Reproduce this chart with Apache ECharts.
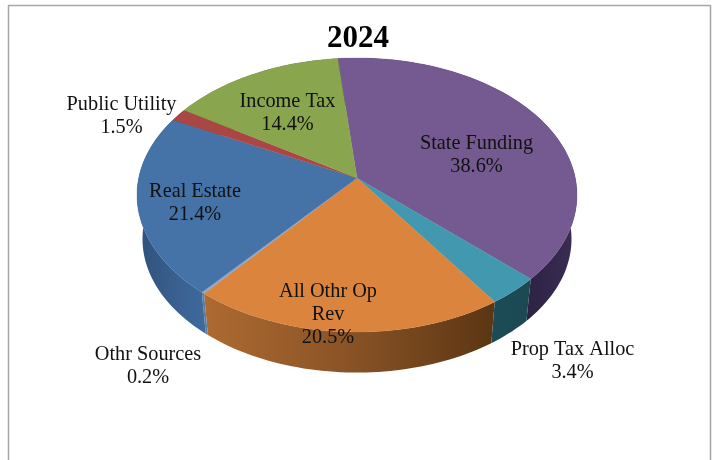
<!DOCTYPE html>
<html><head><meta charset="utf-8">
<style>html,body{margin:0;padding:0;background:#fff}#c{width:712px;height:460px}</style>
<script src="https://cdn.jsdelivr.net/npm/echarts@6/dist/echarts.min.js"></script>
</head><body><div id="c"></div>
<script>
const chartTitle = '2024';
const categories = ['State Funding','Prop Tax Alloc','All Othr Op\nRev','Othr Sources','Real Estate','Public Utility','Income Tax'];
const shares = [38.6,3.4,20.5,0.2,21.4,1.5,14.4];

const topColors = ['#745a91','#4198af','#db843d','#8da6c9','#4572a7','#aa4643','#89a54e'];
const wallStops = [
  [[0,'#2c2242'],[1,'#3a2d55']],
  [[0,'#1c4c56'],[1,'#1c4852']],
  [[0,'#ad6a31'],[0.5,'#8a5326'],[1,'#5c3713']],
  [[0,'#5f7ca3'],[1,'#5f7ca3']],
  [[0,'#30527c'],[0.6,'#3a6191'],[1,'#3e6a9d']],
  [[0,'#6e2d2b'],[1,'#6e2d2b']],
  [[0,'#5a6d33'],[1,'#5a6d33']]
];
const wallGradX = [[525,575],[490,530],[205,490],[200,206],[140,205],[170,190],[190,340]];
const labelCenters = [[476.5,155],[572.5,361],[328,315],[148,366],[195,203],[121.5,116],[287.5,113]];

const START_DEG = -5.7, CX = 357, CY = 195, RX = 220, RY = 137, TILT = -0.124;
const WALL_DY = 44, WALL_SCALE = 0.975;
const total = shares.reduce((a,b)=>a+b,0);
const cum = []; shares.reduce((s,v,i)=>(cum[i]=s,s+v),0);

// Perspective projection of the unit disc on to the top ellipse.
function proj(r, deg, lower){
  const a = deg*Math.PI/180, u = r*Math.sin(a), v = -r*Math.cos(a);
  const den = 1+TILT*v, w = (v+TILT)/den, x = u*Math.sqrt(1-TILT*TILT)/den;
  return lower ? [CX+RX*WALL_SCALE*x, CY+WALL_DY+RY*WALL_SCALE*w] : [CX+RX*x, CY+RY*w];
}
function rim(i, lower){
  const a0 = START_DEG+cum[i]/total*360, a1 = a0+shares[i]/total*360, pts = [];
  const n = Math.max(2, Math.ceil((a1-a0)/1.5));
  for(let k=0;k<=n;k++) pts.push(proj(1,a0+(a1-a0)*k/n,lower));
  return pts;
}
const data = shares.map((v,i)=>({name:categories[i],value:v}));
const noAnim = {animation:false,silent:true,coordinateSystem:'none',type:'custom',data};
const FONT = '"Liberation Serif",serif';

const chart = echarts.init(document.getElementById('c'),null,{renderer:'canvas'});
chart.setOption({
  backgroundColor:'#fff', animation:false,
  title:{text:chartTitle,left:353,top:18,textAlign:'center',
    textStyle:{fontFamily:FONT,fontSize:31,fontWeight:'bold',color:'#000'}},
  graphic:[{type:'rect',silent:true,shape:{x:8.5,y:5.5,width:702,height:480},
    style:{fill:'none',stroke:'#a6a6a6',lineWidth:1.5}}],
  series:[
    Object.assign({},noAnim,{z:1,renderItem(p){
      const i=p.dataIndex, up=rim(i,false), lo=rim(i,true).reverse();
      return {type:'polygon',shape:{points:up.concat(lo)},style:{
        fill:{type:'linear',global:true,x:wallGradX[i][0],y:0,x2:wallGradX[i][1],y2:0,
          colorStops:wallStops[i].map(s=>({offset:s[0],color:s[1]}))},
        stroke:null}};
    }}),
    Object.assign({},noAnim,{z:2,renderItem(p){
      const i=p.dataIndex, pts=[proj(0,0,false)].concat(rim(i,false));
      return {type:'polygon',shape:{points:pts},style:{fill:topColors[i],stroke:topColors[i],lineWidth:0.3}};
    }}),
    Object.assign({},noAnim,{z:3,renderItem(p,api){
      const i=p.dataIndex;
      return {type:'text',style:{x:labelCenters[i][0],y:labelCenters[i][1],
        text:categories[i]+'\n'+api.value(0).toFixed(1)+'%',
        align:'center',verticalAlign:'middle',fontFamily:FONT,fontSize:20.3,lineHeight:23,fill:'#111'}};
    },encode:{value:1}})
  ]
});
</script></body></html>
